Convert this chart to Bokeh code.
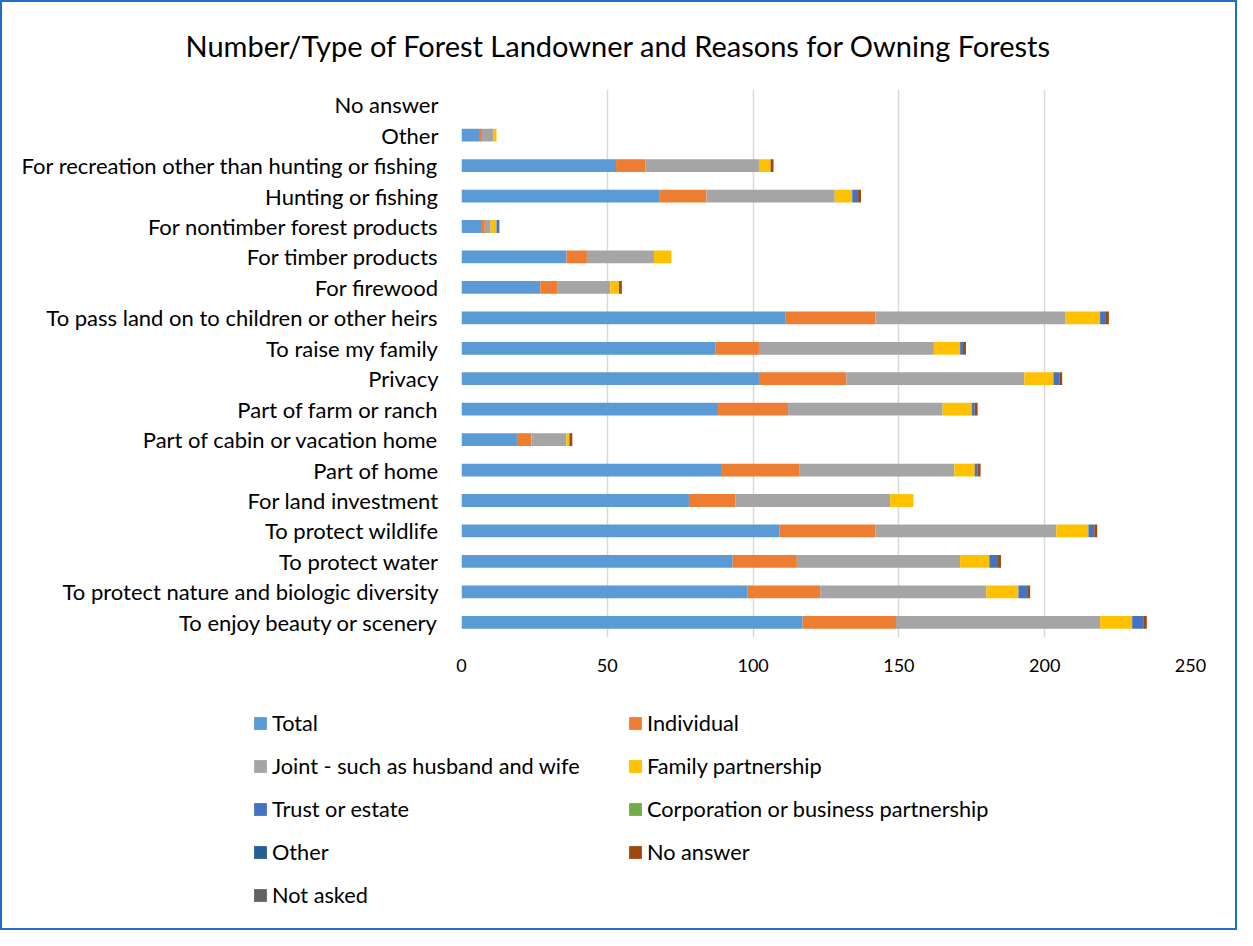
from bokeh.plotting import figure
from bokeh.layouts import column
from bokeh.models import (ColumnDataSource, FactorRange, Range1d, SingleIntervalTicker,
                          Legend, LegendItem, Title)
from bokeh.embed import file_html
from bokeh.resources import INLINE

# ---- data (top-to-bottom as displayed) ----
categories = [
    "No answer",
    "Other",
    "For recreation other than hunting or fishing",
    "Hunting or fishing",
    "For nontimber forest products",
    "For timber products",
    "For firewood",
    "To pass land on to children or other heirs",
    "To raise my family",
    "Privacy",
    "Part of farm or ranch",
    "Part of cabin or vacation home",
    "Part of home",
    "For land investment",
    "To protect wildlife",
    "To protect water",
    "To protect nature and biologic diversity",
    "To enjoy beauty or scenery",
]

series_names = ["Total", "Individual", "Joint - such as husband and wife",
                "Family partnership", "Trust or estate",
                "Corporation or business partnership", "Other", "No answer",
                "Not asked"]

total       = [0, 6, 53, 68, 7, 36, 27, 111, 87, 102, 88, 19, 89, 78, 109, 93, 98, 117]
individual  = [0, 1, 10, 16, 1, 7, 6, 31, 15, 30, 24, 5, 27, 16, 33, 22, 25, 32]
joint       = [0, 4, 39, 44, 2, 23, 18, 65, 60, 61, 53, 12, 53, 53, 62, 56, 57, 70]
family      = [0, 1, 4, 6, 2, 6, 3, 12, 9, 10, 10, 1, 7, 8, 11, 10, 11, 11]
trust       = [0, 0, 0, 2, 1, 0, 0, 2, 1, 2, 1, 0, 1, 0, 2, 3, 3, 4]
corporation = [0] * 18
other       = [0] * 18
no_answer   = [0, 0, 1, 1, 0, 0, 1, 1, 1, 1, 1, 1, 1, 0, 1, 1, 1, 1]
not_asked   = [0] * 18

colors = ["#5B9BD5", "#ED7D31", "#A5A5A5", "#FFC000", "#4472C4",
          "#70AD47", "#255E91", "#9E480E", "#636363"]

keys = ["total", "individual", "joint", "family", "trust",
        "corporation", "other", "no_answer", "not_asked"]

src = ColumnDataSource(dict(
    cat=categories, total=total, individual=individual, joint=joint,
    family=family, trust=trust, corporation=corporation, other=other,
    no_answer=no_answer, not_asked=not_asked))

FONT = "Lato"
W = 1237

# ---------------- main chart ----------------
p = figure(width=W, height=690,
           y_range=FactorRange(factors=categories[::-1]),
           x_range=Range1d(0, 250),
           output_backend="svg", toolbar_location=None,
           min_border_left=461, min_border_right=47,
           min_border_top=89, min_border_bottom=53)

p.hbar_stack(keys, y="cat", height=0.42, color=colors, line_color=None, source=src)

p.title = Title(text="Number/Type of Forest Landowner and Reasons for Owning Forests",
                align="left", offset=-276, vertical_align="middle", standoff=51,
                text_font=FONT, text_font_size="29px", text_font_style="normal",
                text_color="#000000")

p.xaxis.ticker = SingleIntervalTicker(interval=50)
p.xaxis.axis_line_color = None
p.xaxis.major_tick_line_color = None
p.xaxis.minor_tick_line_color = None
p.xaxis.major_tick_out = 0
p.xaxis.major_label_standoff = 17
p.xaxis.major_label_text_font = FONT
p.xaxis.major_label_text_font_size = "18px"
p.xaxis.major_label_text_color = "#000000"

p.yaxis.axis_line_color = None
p.yaxis.major_tick_line_color = None
p.yaxis.minor_tick_line_color = None
p.yaxis.major_tick_out = 0
p.yaxis.major_label_standoff = 23
p.yaxis.major_label_text_font = FONT
p.yaxis.major_label_text_font_size = "22px"
p.yaxis.major_label_text_color = "#000000"

p.xgrid.grid_line_color = "#D9D9D9"
p.xgrid.grid_line_width = 1.5
p.ygrid.grid_line_color = None
p.outline_line_color = None

# ---------------- legend strip ----------------
lg = figure(width=W, height=240, x_range=Range1d(0, 1), y_range=Range1d(0, 1),
            output_backend="svg", toolbar_location=None,
            min_border=0, min_border_left=0, min_border_right=0,
            min_border_top=0, min_border_bottom=0)
lg.frame_align = False
lg.axis.visible = False
lg.grid.visible = False
lg.outline_line_color = None

# legend swatch stubs (zero-size, nothing visible in the strip itself)
swatches = [lg.hbar(y=[0], left=[0], right=[0], height=0, color=c, line_color=None)
            for c in colors]
items = [LegendItem(label=n, renderers=[r]) for n, r in zip(series_names, swatches)]
legend = Legend(items=items, orientation="horizontal", ncols=2,
                location=(252, 22), margin=0, padding=0,
                border_line_color=None, background_fill_alpha=0,
                glyph_width=16, glyph_height=16, label_standoff=4,
                label_height=24, label_width=338, spacing=17,
                label_text_font=FONT, label_text_font_size="21.7px",
                label_text_color="#000000")
lg.add_layout(legend, "center")

layout = column(p, lg, spacing=0)
layout.styles = {"width": "1237px", "height": "930px", "position": "relative"}
layout.stylesheets = [
    ":host::after { content: ''; position: absolute; left: 0; top: 0; "
    "width: 1237px; height: 930px; box-sizing: border-box; "
    "border: 2px solid #1F6FC5; pointer-events: none; z-index: 100; }"
]

open("out.html", "w").write(file_html(layout, INLINE))
